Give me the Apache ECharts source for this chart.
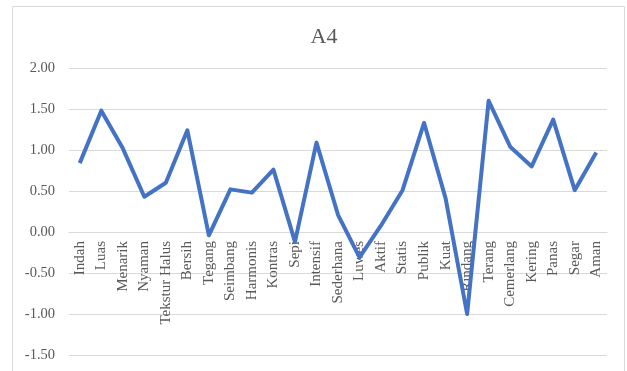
<!DOCTYPE html>
<html>
<head>
<meta charset="utf-8">
<style>
  html, body { margin: 0; padding: 0; background: #fff; }
  #chart { width: 627px; height: 371px; }
</style>
<script src="https://cdn.jsdelivr.net/npm/echarts@6/dist/echarts.min.js"></script>
</head>
<body>
<div id="chart"></div>
<script>
// data
const categories = ['Indah', 'Luas', 'Menarik', 'Nyaman', 'Tekstur Halus', 'Bersih', 'Tegang', 'Seimbang',
  'Harmonis', 'Kontras', 'Sepi', 'Intensif', 'Sederhana', 'Luwes', 'Aktif', 'Statis', 'Publik', 'Kuat',
  'Rindang', 'Terang', 'Cemerlang', 'Kering', 'Panas', 'Segar', 'Aman']
const a4Values = [0.84, 1.48, 1.02, 0.43, 0.60, 1.24, -0.04, 0.52, 0.48, 0.76, -0.12, 1.09, 0.21, -0.31,
  0.08, 0.51, 1.33, 0.41, -1.00, 1.60, 1.04, 0.80, 1.37, 0.51, 0.97]
const yMin = -1.5
const yMax = 2
const yStep = 0.5

const chart = echarts.init(document.getElementById('chart'))

const serif = '"Liberation Serif", "DejaVu Serif", serif'
const gridTop = 68
const gridBottom = 16
// the category labels sit under the zero line, not under the plot
const plotHeight = 371 - gridTop - gridBottom
const zeroOffset = -plotHeight * (0 - yMin) / (yMax - yMin)

chart.setOption({
  animation: false,
  textStyle: {
    fontFamily: serif
  },
  graphic: [
    {
      type: 'rect',
      shape: { x: 12.5, y: 6.5, width: 612, height: 400 },
      style: { fill: 'none', stroke: '#d9d9d9', lineWidth: 1 },
      silent: true
    }
  ],
  title: {
    text: 'A4',
    left: 319,
    top: 21,
    textAlign: 'center',
    textStyle: {
      color: '#595959',
      fontFamily: serif,
      fontWeight: 'normal',
      fontSize: 22
    }
  },
  grid: {
    top: gridTop,
    bottom: gridBottom,
    left: 69,
    right: 20,
    containLabel: false,
    outerBoundsMode: 'none'
  },
  xAxis: {
    type: 'category',
    data: categories,
    boundaryGap: true,
    offset: zeroOffset,
    axisLine: {
      onZero: false,
      lineStyle: { color: '#d9d9d9' }
    },
    axisTick: { show: false },
    axisLabel: {
      rotate: 90,
      interval: 0,
      margin: 9,
      color: '#595959',
      fontFamily: serif,
      fontSize: 15
    }
  },
  yAxis: {
    type: 'value',
    min: yMin,
    max: yMax,
    interval: yStep,
    axisLine: { show: false },
    axisTick: { show: false },
    axisLabel: {
      margin: 14,
      color: '#595959',
      fontFamily: serif,
      fontSize: 14.5,
      formatter: v => v.toFixed(2)
    },
    splitLine: {
      lineStyle: { color: '#d9d9d9', width: 1 }
    }
  },
  series: [
    {
      name: 'A4',
      type: 'line',
      data: a4Values,
      symbol: 'none',
      z: 3,
      lineStyle: {
        color: '#4472C4',
        width: 4,
        join: 'round'
      }
    }
  ]
})
</script>
</body>
</html>
